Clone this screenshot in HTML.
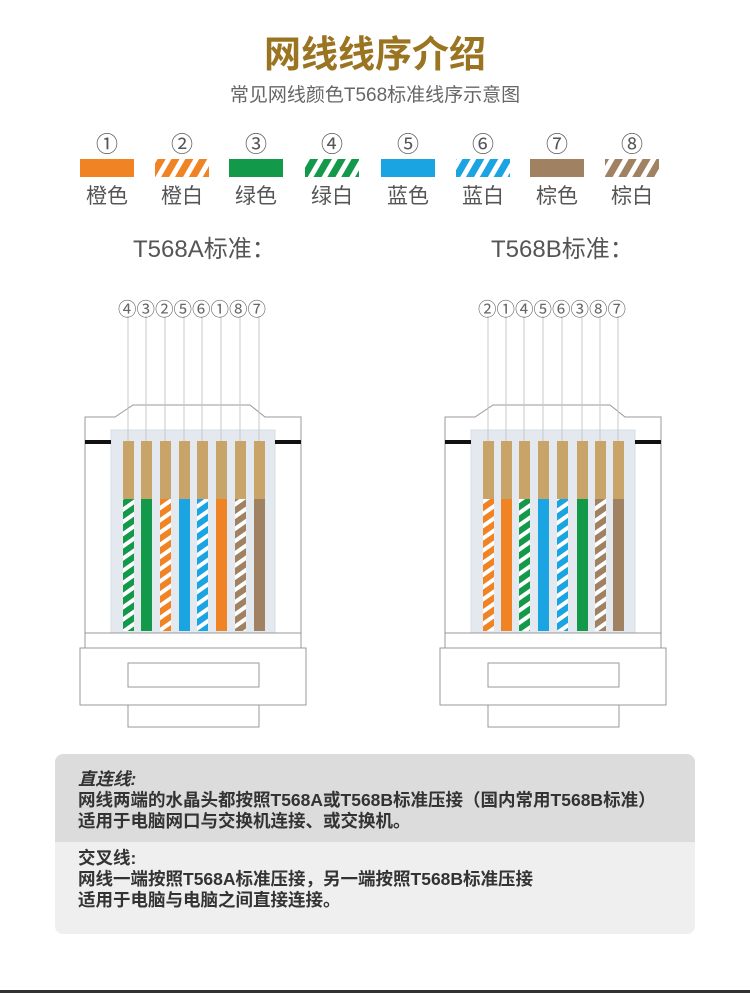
<!DOCTYPE html>
<html><head><meta charset="utf-8"><style>
body{margin:0;background:#fff;}
.pg{position:relative;width:750px;height:993px;overflow:hidden;font-family:"Liberation Sans","Noto Sans CJK SC",sans-serif;}
.t{position:absolute;white-space:nowrap;}
</style></head><body><div class="pg">
<svg width="750" height="993" style="position:absolute;left:0;top:0">
<defs>
<pattern id="po" width="10" height="10" patternUnits="userSpaceOnUse" patternTransform="rotate(-35)"><rect width="10" height="10" fill="#fff"/><rect width="10" height="6" fill="#f08323"/></pattern>
<pattern id="pg" width="10" height="10" patternUnits="userSpaceOnUse" patternTransform="rotate(-35)"><rect width="10" height="10" fill="#fff"/><rect width="10" height="6" fill="#12994a"/></pattern>
<pattern id="pb" width="10" height="10" patternUnits="userSpaceOnUse" patternTransform="rotate(-35)"><rect width="10" height="10" fill="#fff"/><rect width="10" height="6" fill="#1ba4e2"/></pattern>
<pattern id="pr" width="10" height="10" patternUnits="userSpaceOnUse" patternTransform="rotate(-35)"><rect width="10" height="10" fill="#fff"/><rect width="10" height="6" fill="#a08162"/></pattern>
<pattern id="so" width="12" height="12" patternUnits="userSpaceOnUse" patternTransform="rotate(30)"><rect width="12" height="12" fill="#fff"/><rect width="7" height="12" fill="#f08323"/></pattern>
<pattern id="sg" width="12" height="12" patternUnits="userSpaceOnUse" patternTransform="rotate(30)"><rect width="12" height="12" fill="#fff"/><rect width="7" height="12" fill="#12994a"/></pattern>
<pattern id="sb" width="12" height="12" patternUnits="userSpaceOnUse" patternTransform="rotate(30)"><rect width="12" height="12" fill="#fff"/><rect width="7" height="12" fill="#1ba4e2"/></pattern>
<pattern id="sr" width="12" height="12" patternUnits="userSpaceOnUse" patternTransform="rotate(30)"><rect width="12" height="12" fill="#fff"/><rect width="7" height="12" fill="#a08162"/></pattern>
<g id="body" fill="#fff" stroke="#999" stroke-width="1">
<path d="M85 633 V417 H115 L133 405 H250 L265 417 H301 V633 Z"/>
<rect x="111" y="430" width="164" height="203" fill="#e4e9f0" stroke="#d6dde6"/>
<rect x="85" y="633" width="216" height="15"/>
<rect x="80" y="648" width="226" height="57"/>
<rect x="128" y="663" width="131" height="24"/>
<rect x="128" y="705" width="131" height="22"/>
<rect x="85" y="440" width="26" height="4" fill="#111" stroke="none"/>
<rect x="275" y="440" width="26" height="4" fill="#111" stroke="none"/>
</g>
</defs>
<rect x="80" y="159" width="54" height="18" fill="#f08323"/>
<rect x="155" y="159" width="54" height="18" fill="url(#so)"/>
<rect x="229" y="159" width="54" height="18" fill="#12994a"/>
<rect x="305" y="159" width="54" height="18" fill="url(#sg)"/>
<rect x="381" y="159" width="54" height="18" fill="#1ba4e2"/>
<rect x="456" y="159" width="54" height="18" fill="url(#sb)"/>
<rect x="530" y="159" width="54" height="18" fill="#a08162"/>
<rect x="605" y="159" width="54" height="18" fill="url(#sr)"/>

<use href="#body"/>
<use href="#body" x="360"/>
<g stroke="#c8c8c8" stroke-width="1">
<line x1="128" y1="316" x2="128" y2="441"/><line x1="146" y1="316" x2="146" y2="441"/><line x1="165" y1="316" x2="165" y2="441"/><line x1="184" y1="316" x2="184" y2="441"/><line x1="202" y1="316" x2="202" y2="441"/><line x1="221" y1="316" x2="221" y2="441"/><line x1="240" y1="316" x2="240" y2="441"/><line x1="259" y1="316" x2="259" y2="441"/>
<line x1="488" y1="316" x2="488" y2="441"/><line x1="506" y1="316" x2="506" y2="441"/><line x1="524" y1="316" x2="524" y2="441"/><line x1="543" y1="316" x2="543" y2="441"/><line x1="562" y1="316" x2="562" y2="441"/><line x1="582" y1="316" x2="582" y2="441"/><line x1="600" y1="316" x2="600" y2="441"/><line x1="618" y1="316" x2="618" y2="441"/>
</g>
<g fill="#c9a468">
<rect x="123" y="441" width="11" height="58"/><rect x="141" y="441" width="11" height="58"/><rect x="160" y="441" width="11" height="58"/><rect x="179" y="441" width="11" height="58"/><rect x="197" y="441" width="11" height="58"/><rect x="216" y="441" width="11" height="58"/><rect x="235" y="441" width="11" height="58"/><rect x="254" y="441" width="11" height="58"/>
<rect x="483" y="441" width="11" height="58"/><rect x="501" y="441" width="11" height="58"/><rect x="519" y="441" width="11" height="58"/><rect x="538" y="441" width="11" height="58"/><rect x="557" y="441" width="11" height="58"/><rect x="577" y="441" width="11" height="58"/><rect x="595" y="441" width="11" height="58"/><rect x="613" y="441" width="11" height="58"/>
</g>
<rect x="123" y="499" width="11" height="132" fill="url(#pg)"/>
<rect x="141" y="499" width="11" height="132" fill="#12994a"/>
<rect x="160" y="499" width="11" height="132" fill="url(#po)"/>
<rect x="179" y="499" width="11" height="132" fill="#1ba4e2"/>
<rect x="197" y="499" width="11" height="132" fill="url(#pb)"/>
<rect x="216" y="499" width="11" height="132" fill="#f08323"/>
<rect x="235" y="499" width="11" height="132" fill="url(#pr)"/>
<rect x="254" y="499" width="11" height="132" fill="#a08162"/>
<rect x="483" y="499" width="11" height="132" fill="url(#po)"/>
<rect x="501" y="499" width="11" height="132" fill="#f08323"/>
<rect x="519" y="499" width="11" height="132" fill="url(#pg)"/>
<rect x="538" y="499" width="11" height="132" fill="#1ba4e2"/>
<rect x="557" y="499" width="11" height="132" fill="url(#pb)"/>
<rect x="577" y="499" width="11" height="132" fill="#12994a"/>
<rect x="595" y="499" width="11" height="132" fill="url(#pr)"/>
<rect x="613" y="499" width="11" height="132" fill="#a08162"/>

<path d="M55 762 a8 8 0 0 1 8 -8 H687 a8 8 0 0 1 8 8 V842 H55 Z" fill="#dcdcdc"/>
<path d="M55 842 H695 V926 a8 8 0 0 1 -8 8 H63 a8 8 0 0 1 -8 -8 Z" fill="#efefef"/>
<rect x="0" y="990" width="750" height="3" fill="#333"/>
</svg>

<div class="t" style="left:0;width:750px;text-align:center;top:24px;font-size:37px;font-weight:bold;color:#9a7420;">网线线序介绍</div>
<div class="t" style="left:0;width:750px;text-align:center;top:80px;font-size:19px;color:#666;">常见网线颜色T568标准线序示意图</div>

<div class="t" style="top:127px;left:0;font-size:22px;color:#555;">
<span class="t" style="left:96px">①</span><span class="t" style="left:171px">②</span><span class="t" style="left:245px">③</span><span class="t" style="left:321px">④</span><span class="t" style="left:397px">⑤</span><span class="t" style="left:472px">⑥</span><span class="t" style="left:546px">⑦</span><span class="t" style="left:621px">⑧</span>
</div>
<div class="t" style="top:180px;left:0;font-size:21px;color:#555;">
<span class="t" style="left:86px">橙色</span><span class="t" style="left:161px">橙白</span><span class="t" style="left:235px">绿色</span><span class="t" style="left:311px">绿白</span><span class="t" style="left:387px">蓝色</span><span class="t" style="left:462px">蓝白</span><span class="t" style="left:536px">棕色</span><span class="t" style="left:611px">棕白</span>
</div>
<div class="t" style="left:133px;top:229px;font-size:24px;color:#555;">T568A标准：</div>
<div class="t" style="left:491px;top:229px;font-size:24px;color:#555;">T568B标准：</div>
<div class="t" style="left:118px;top:296px;font-size:18.5px;color:#666;">④③②⑤⑥①⑧⑦</div>
<div class="t" style="left:478px;top:296px;font-size:18.5px;color:#666;">②①④⑤⑥③⑧⑦</div>

<div class="t" style="left:78px;top:769px;font-size:17.5px;line-height:21px;color:#333;font-weight:bold;">
<i>直连线:</i><br>网线两端的水晶头都按照T568A或T568B标准压接（国内常用T568B标准）<br>适用于电脑网口与交换机连接、或交换机。</div>
<div class="t" style="left:78px;top:848px;font-size:17.5px;line-height:21px;color:#333;font-weight:bold;">
交叉线:<br>网线一端按照T568A标准压接，另一端按照T568B标准压接<br>适用于电脑与电脑之间直接连接。</div>
</div></body></html>
